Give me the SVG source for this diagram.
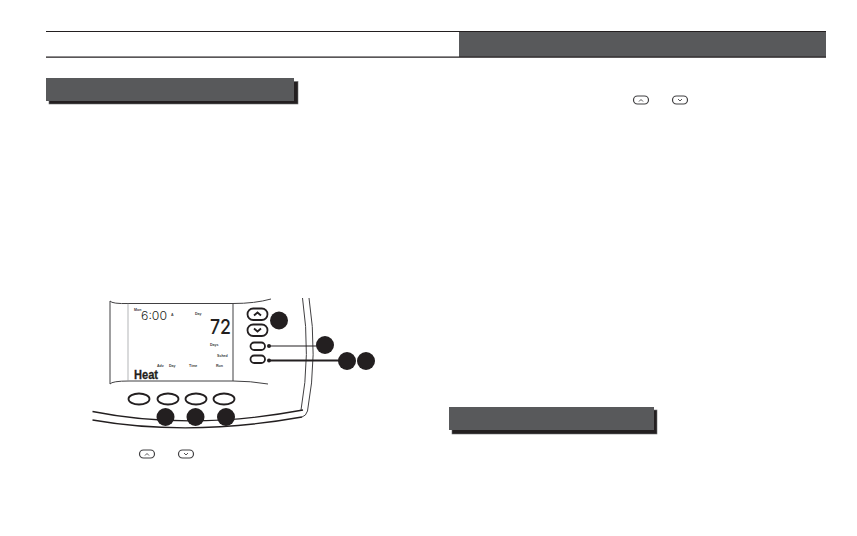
<svg xmlns="http://www.w3.org/2000/svg" width="857" height="536" viewBox="0 0 857 536">
<style>
.bar{fill:#58595b}
.sh{fill:#231f20;stroke:#6d6e71;stroke-width:.6}
.rule{stroke:#231f20;stroke-width:1.2;fill:none}
.ln{stroke:#414042;stroke-width:1;fill:none}
.th{stroke:#231f20;stroke-width:1.3;fill:none}
.btn{fill:#fff;stroke:#231f20;stroke-width:1.8}
.ic{fill:#fff;stroke:#414042;stroke-width:1.2}
.ar{fill:none;stroke:#414042;stroke-width:.9}
.dot{fill:#231f20}
.t{font-family:"Liberation Sans",Arial,sans-serif;fill:#414042;font-weight:700;font-size:3.6px}
.seg{font-family:Inter,"Liberation Sans",sans-serif;fill:#231f20}
</style>
<rect width="857" height="536" fill="#fff"/>
<g id="header">
<rect class="bar" x="459" y="32" width="367" height="25"/>
<path class="rule" d="M46 31.5H826M46 57.2H826"/>
</g>
<g id="section-left">
<rect class="sh" x="49" y="81.500" width="249" height="22.500"/>
<rect class="bar" x="46" y="78" width="248" height="23"/>
</g>
<g id="section-right">
<rect class="sh" x="452" y="410" width="205" height="24"/>
<rect class="bar" x="449" y="407" width="205" height="23"/>
</g>
<g id="top-icons">
<rect class="ic" x="633.500" y="96" width="15" height="8" rx="4"/>
<path d="M639 101.500l2-2 2 2" class="ar"/>
<rect class="ic" x="672.500" y="96" width="15" height="8" rx="4"/>
<path d="M678 99l2 2 2-2" class="ar"/>
</g>
<g id="thermostat">
<path class="ln" d="M302.500 298Q311 355 301 410M309 298Q318 355 307.500 411Q306 416 302 417"/>
<path class="th" d="M92.500 411.500Q190 431 303 410"/>
<path class="th" d="M92.500 420Q190 437 302 417"/>
<path class="ln" d="M110 301Q112 304 129 303.500H233Q255 303.500 271 299"/>
<path class="ln" d="M110 384Q112 381 129 381H233Q250 381 268 384"/>
<path class="ln" d="M110 301V384M233 303.500V381"/>
<path d="M128 303.500V381" stroke="#939598" stroke-width=".7" fill="none"/>
<text class="t" x="134" y="310.500">Mon</text>
<text class="seg" x="141" y="320" font-size="12" font-weight="300" textLength="26" lengthAdjust="spacingAndGlyphs">6:00</text>
<text class="t" x="171" y="316">A</text>
<text class="t" x="195" y="315">Day</text>
<text class="seg" x="210" y="334" font-size="20" font-weight="500" textLength="21" lengthAdjust="spacingAndGlyphs">72</text>
<text class="t" x="210" y="346">Days</text>
<text class="t" x="217" y="357">Sched</text>
<text class="t" x="157" y="367">Adv</text>
<text class="t" x="169" y="367">Day</text>
<text class="t" x="189" y="367">Time</text>
<text class="t" x="216" y="367">Run</text>
<text x="134" y="379" font-family="'Liberation Sans',Arial,sans-serif" font-size="13" font-weight="700" fill="#231f20" stroke="#231f20" stroke-width=".3" textLength="24" lengthAdjust="spacingAndGlyphs">Heat</text>
</g>
<g id="btn-up"><rect class="btn" x="247.500" y="308.500" width="20" height="11.500" rx="5.700"/><path d="M254 315.500l3.500-3 3.500 3" fill="none" stroke="#231f20" stroke-width="1.800"/></g>
<g id="btn-down"><rect class="btn" x="247.500" y="324.500" width="20" height="11.500" rx="5.700"/><path d="M254 328.500l3.500 3 3.500-3" fill="none" stroke="#231f20" stroke-width="1.800"/></g>
<g id="btn-days"><rect class="btn" x="250.500" y="342.500" width="14.500" height="7.500" rx="3.700"/></g>
<g id="btn-sched"><rect class="btn" x="250.500" y="355.500" width="14.500" height="7.500" rx="3.700"/></g>
<g id="btn-1"><ellipse class="btn" cx="139" cy="399" rx="10.500" ry="5.500"/></g>
<g id="btn-2"><ellipse class="btn" cx="168" cy="399" rx="10.500" ry="5.500"/></g>
<g id="btn-3"><ellipse class="btn" cx="196" cy="399" rx="10.500" ry="5.500"/></g>
<g id="btn-4"><ellipse class="btn" cx="224" cy="399" rx="10.500" ry="5.500"/></g>
<g id="connectors">
<path d="M269 346H320" stroke="#231f20" stroke-width="1.200" fill="none"/>
<path d="M269 360.500H345" stroke="#231f20" stroke-width="2" fill="none"/>
<circle class="dot" cx="269" cy="346" r="2"/>
<circle class="dot" cx="269" cy="360.500" r="2"/>
</g>
<g id="callout-1"><circle class="dot" cx="279" cy="320.500" r="9"/></g>
<g id="callout-2"><circle class="dot" cx="325" cy="345" r="9"/></g>
<g id="callout-3"><circle class="dot" cx="347" cy="361" r="9"/></g>
<g id="callout-4"><circle class="dot" cx="366" cy="361" r="9"/></g>
<g id="callout-5"><circle class="dot" cx="165.500" cy="417" r="9"/></g>
<g id="callout-6"><circle class="dot" cx="195.500" cy="417" r="9"/></g>
<g id="callout-7"><circle class="dot" cx="226" cy="417" r="9"/></g>
<g id="bottom-icons">
<rect class="ic" x="139.500" y="450" width="15" height="8" rx="4"/>
<path d="M145 455.500l2-2 2 2" class="ar"/>
<rect class="ic" x="178.500" y="450" width="15" height="8" rx="4"/>
<path d="M184 453l2 2 2-2" class="ar"/>
</g>
</svg>
